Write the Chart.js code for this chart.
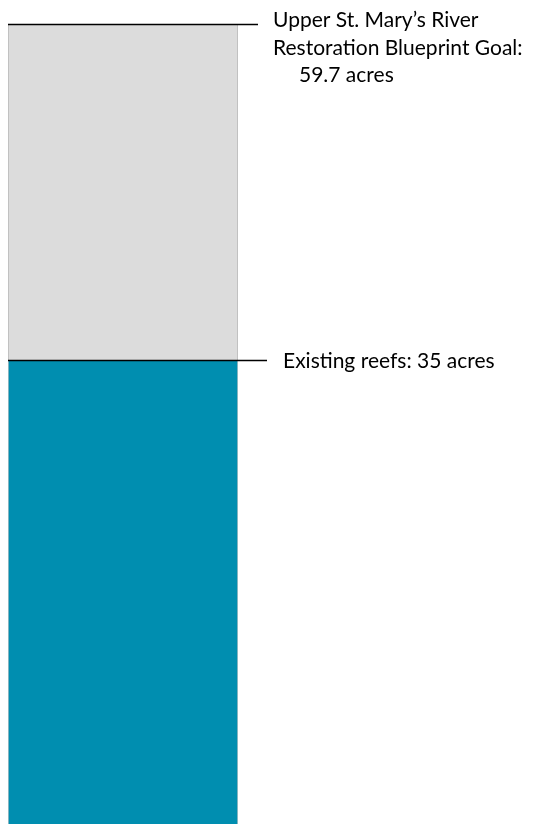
<!DOCTYPE html>
<html>
<head>
<meta charset="utf-8">
<script src="https://cdn.jsdelivr.net/npm/chart.js@4.4.1/dist/chart.umd.min.js"></script>
<style>
  html, body { margin: 0; padding: 0; background: #fff; overflow: hidden; }
  #wrap { width: 535px; height: 835px; }
</style>
</head>
<body>
<div id="wrap"><canvas id="reefChart"></canvas></div>
<script>
// values in acres
const categories = ["Oyster reef acreage"];
const existingReefs = [35];
const remainingToGoal = [24.7];
const goalTotal = 59.7;

const goalLabel = ["Upper St. Mary\u2019s River", "Restoration Blueprint Goal:", "59.7 acres"];
const existingLabel = "Existing reefs: 35 acres";

// leader lines + labels drawn after the bars
const labelPlugin = {
    id: "labelPlugin",
    afterDatasetsDraw(chart) {
        const ctx = chart.ctx;
        const y = chart.scales.y;
        const left = chart.chartArea.left;
        const yGoal = Math.round(y.getPixelForValue(goalTotal)) - 1;
        const yExist = Math.round(y.getPixelForValue(existingReefs[0]));

        ctx.save();
        ctx.strokeStyle = "#000";
        ctx.lineWidth = 1.3;
        ctx.beginPath();
        ctx.moveTo(left, yGoal + 0.5);
        ctx.lineTo(258, yGoal + 0.5);
        ctx.moveTo(left, yExist + 0.5);
        ctx.lineTo(267, yExist + 0.5);
        ctx.stroke();

        ctx.fillStyle = "#000";
        ctx.font = "21px Lato";
        ctx.textBaseline = "middle";
        ctx.fillText(goalLabel[0], 273, 20);
        ctx.fillText(goalLabel[1], 273, 48);
        ctx.fillText(goalLabel[2], 299, 75);
        ctx.fillText(existingLabel, 283, yExist + 1);
        ctx.restore();
    }
};

const ctx = document.getElementById("reefChart").getContext("2d");
new Chart(ctx, {
    type: "bar",
    data: {
        labels: categories,
        datasets: [{
            label: "Existing reefs",
            data: existingReefs,
            backgroundColor: "#008eb0",
            borderColor: "#c8c8c8",
            borderWidth: { left: 1, right: 1, top: 0, bottom: 0 },
            borderSkipped: false
        }, {
            label: "Remaining to goal",
            data: remainingToGoal,
            backgroundColor: "#dcdcdc",
            borderColor: "#b4b4b4",
            borderWidth: { left: 1, right: 1, top: 0, bottom: 0 },
            borderSkipped: false
        }]
    },
    options: {
        responsive: true,
        maintainAspectRatio: false,
        animation: false,
        layout: { padding: { left: 8, right: 297, top: 25, bottom: 0 } },
        datasets: { bar: { barPercentage: 1, categoryPercentage: 1 } },
        plugins: { legend: { display: false }, tooltip: { enabled: false } },
        scales: {
            x: { stacked: true, display: false },
            y: { stacked: true, display: false, min: 0, max: goalTotal }
        }
    },
    plugins: [labelPlugin]
});
</script>
</body>
</html>
